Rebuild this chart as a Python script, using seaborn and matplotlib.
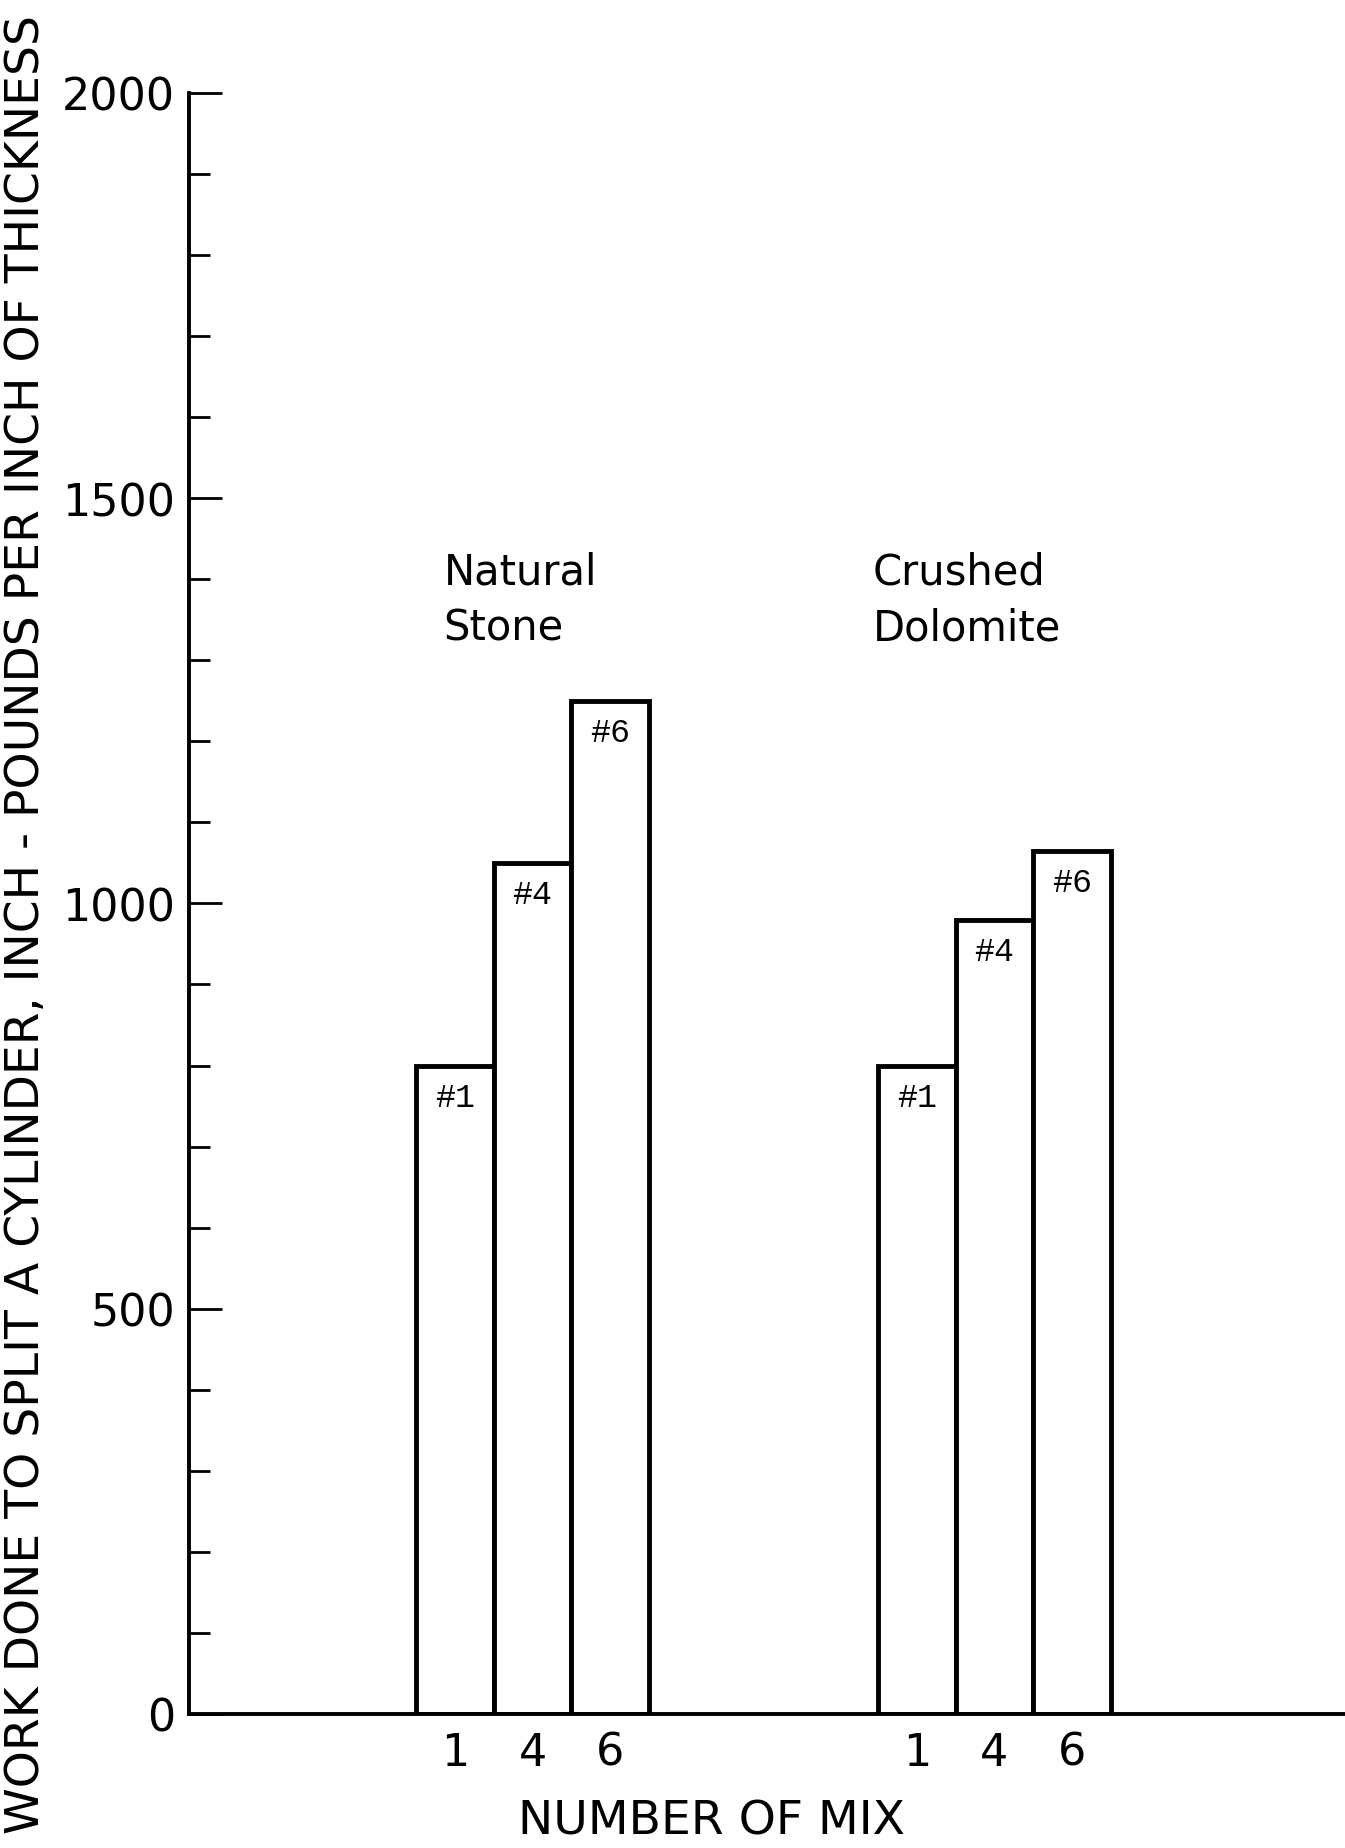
import numpy as np
import pandas as pd
import seaborn as sns
import matplotlib.pyplot as plt
from matplotlib.ticker import MultipleLocator

# values
groups = ["Natural\nStone", "Crushed\nDolomite"]
mixes = [1, 4, 6]
natural_stone = [800, 1050, 1250]
crushed_dolomite = [800, 980, 1065]

# layout: where each group's first bar starts on the x axis
group_start = [3, 8.97]
group_text_x = [3.35, 8.9]

rows = []
for g, vals in enumerate([natural_stone, crushed_dolomite]):
    for i, (m, v) in enumerate(zip(mixes, vals)):
        rows.append({"group": groups[g], "mix": m, "value": v,
                     "pos": group_start[g] + i + 0.5})
df = pd.DataFrame(rows)

sns.set_style("white")
plt.rcParams["font.family"] = ["DejaVu Sans"]
plt.rcParams["text.color"] = "black"
plt.rcParams["xtick.color"] = "black"
plt.rcParams["ytick.color"] = "black"
plt.rcParams["axes.labelcolor"] = "black"

fig = plt.figure(figsize=(13.45, 18.49), dpi=100)
ax = fig.add_axes([0.1405, 0.0725, 0.8595, 0.8767])

sns.barplot(data=df, x="pos", y="value", native_scale=True, width=1,
            color="white", edgecolor="black", linewidth=3.5,
            errorbar=None, ax=ax)

# "#n" labels just under each bar top
for cont in ax.containers:
    ax.bar_label(cont, labels=[f"#{m}" for m in df["mix"]], padding=-34,
                 fontsize=24, family="Liberation Mono", color="black")

for g, name in enumerate(groups):
    ax.text(group_text_x[g], 1435, name, ha="left", va="top",
            fontsize=30, linespacing=1.4, color="black")

ax.set_xlim(0.06, 15)
ax.set_ylim(0, 2000)
ax.set_xticks(df["pos"], [str(m) for m in df["mix"]])
ax.yaxis.set_major_locator(MultipleLocator(500))
ax.yaxis.set_minor_locator(MultipleLocator(100))

for side in ["top", "right"]:
    ax.spines[side].set_visible(False)
for side in ["left", "bottom"]:
    ax.spines[side].set_linewidth(2.8)
    ax.spines[side].set_color("black")

ax.tick_params(axis="y", which="major", left=True, direction="in", length=24,
               width=2, pad=10, labelsize=32, color="black")
ax.tick_params(axis="y", which="minor", left=True, direction="in", length=15,
               width=2, color="black")
ax.tick_params(axis="x", bottom=False, length=0, pad=12, labelsize=32)

ax.set_xlabel("NUMBER OF MIX", fontsize=34, va="center")
ax.xaxis.set_label_coords(0.452, -0.066)
ax.set_ylabel("")

fig.text(0.02, 0.5, "WORK DONE TO SPLIT A CYLINDER, INCH - POUNDS PER INCH OF THICKNESS",
         rotation=90, ha="center", va="center", fontsize=34)

fig.savefig("out.png", dpi=100, facecolor="white")
